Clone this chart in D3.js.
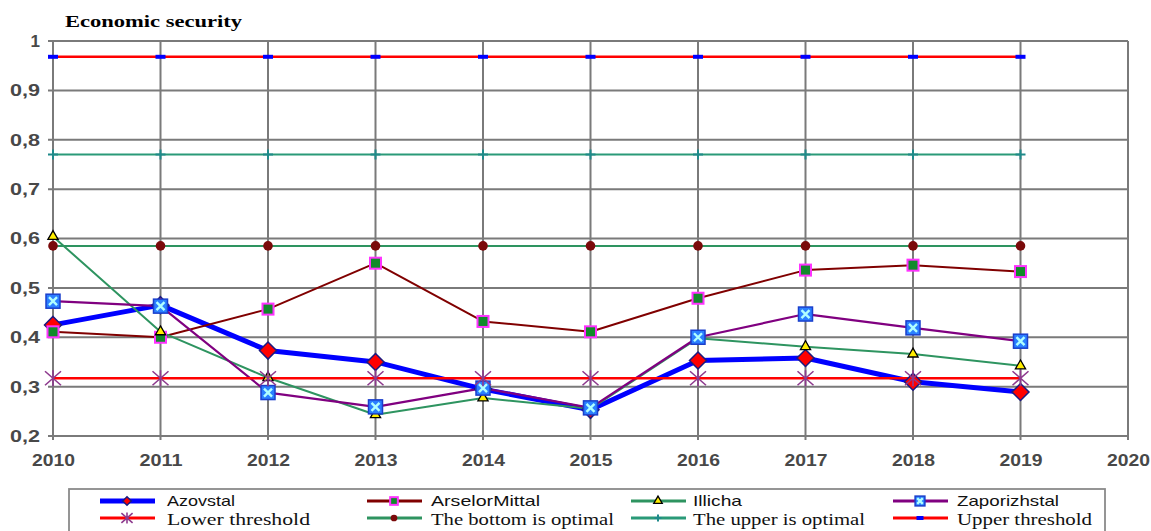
<!DOCTYPE html>
<html lang="en">
<head>
  <meta charset="UTF-8">
  <script src="https://d3js.org/d3.v7.min.js"></script>
  <title>Economic security</title>
  <style>
    body { margin:0; background:#fff; }
    svg { display:block; }
  </style>
</head>
<body>
  <svg width="1151" height="531"></svg>
  <script>
    const years = [2010, 2011, 2012, 2013, 2014, 2015, 2016, 2017, 2018, 2019];
    const xTicks = [2010, 2011, 2012, 2013, 2014, 2015, 2016, 2017, 2018, 2019, 2020];
    const yTicks = [0.2, 0.3, 0.4, 0.5, 0.6, 0.7, 0.8, 0.9, 1];
    const yTickLabels = ["0,2", "0,3", "0,4", "0,5", "0,6", "0,7", "0,8", "0,9", "1"];

    const azovstal      = [0.425, 0.465, 0.373, 0.350, 0.295, 0.253, 0.353, 0.358, 0.310, 0.289];
    const arselorMittal = [0.411, 0.400, 0.457, 0.550, 0.432, 0.411, 0.479, 0.536, 0.546, 0.533];
    const illicha       = [0.604, 0.411, 0.318, 0.243, 0.277, 0.255, 0.398, 0.381, 0.366, 0.342];
    const zaporizhstal  = [0.473, 0.463, 0.288, 0.259, 0.297, 0.257, 0.400, 0.447, 0.419, 0.392];
    const lowerThreshold = [0.317, 0.317, 0.317, 0.317, 0.317, 0.317, 0.317, 0.317, 0.317, 0.317];
    const bottomOptimal  = [0.585, 0.585, 0.585, 0.585, 0.585, 0.585, 0.585, 0.585, 0.585, 0.585];
    const upperOptimal   = [0.770, 0.770, 0.770, 0.770, 0.770, 0.770, 0.770, 0.770, 0.770, 0.770];
    const upperThreshold = [0.968, 0.968, 0.968, 0.968, 0.968, 0.968, 0.968, 0.968, 0.968, 0.968];

    const seriesNames = ["Azovstal", "ArselorMittal", "Illicha", "Zaporizhstal",
      "Lower threshold", "The bottom is optimal", "The upper is optimal", "Upper threshold"];

    // series styling, in legend order
    const series = [
      {name: seriesNames[0], values: azovstal,       line: "#0000ff", width: 5,   marker: "diamond"},
      {name: seriesNames[1], values: arselorMittal,  line: "#800000", width: 2,   marker: "square"},
      {name: seriesNames[2], values: illicha,        line: "#2e9460", width: 2,   marker: "triangle"},
      {name: seriesNames[3], values: zaporizhstal,   line: "#800080", width: 2.2, marker: "xsquare"},
      {name: seriesNames[4], values: lowerThreshold, line: "#ff0000", width: 2.5, marker: "asterisk"},
      {name: seriesNames[5], values: bottomOptimal,  line: "#2e9460", width: 2,   marker: "circle"},
      {name: seriesNames[6], values: upperOptimal,   line: "#2a9a78", width: 2,   marker: "plus"},
      {name: seriesNames[7], values: upperThreshold, line: "#ff0000", width: 2.5, marker: "dash"}
    ];

    const svg = d3.select("svg");
    const x = d3.scaleLinear().domain([2010, 2020]).range([53, 1128]);
    const y = d3.scaleLinear().domain([0.2, 1]).range([436, 41]);

    // title
    svg.append("text")
      .attr("x", 65).attr("y", 27)
      .attr("textLength", 177).attr("lengthAdjust", "spacingAndGlyphs")
      .style("font-family", "'Liberation Serif', 'Times New Roman', serif")
      .style("font-weight", "bold").style("font-size", "17px")
      .text("Economic security");

    // grid
    const grid = svg.append("g").attr("stroke", "#7a7a7a").attr("stroke-width", 2);
    grid.selectAll(".h").data(yTicks).enter().append("line")
      .attr("x1", x(2010) - 5).attr("x2", x(2020))
      .attr("y1", d => y(d)).attr("y2", d => y(d));
    grid.selectAll(".v").data(xTicks).enter().append("line")
      .attr("x1", d => x(d)).attr("x2", d => x(d))
      .attr("y1", y(1)).attr("y2", y(0.2) + 4);

    // axis labels
    const yAxis = d3.axisLeft(y).tickValues(yTicks).tickSize(0).tickPadding(13)
      .tickFormat((d, i) => yTickLabels[i]);
    const yG = svg.append("g").attr("transform", `translate(${x(2010)},0)`).call(yAxis);
    const xAxis = d3.axisBottom(x).tickValues(xTicks).tickSize(0).tickPadding(18)
      .tickFormat(d3.format("d"));
    const xG = svg.append("g").attr("transform", `translate(0,${y(0.2)})`).call(xAxis);
    [yG, xG].forEach(g => {
      g.select(".domain").remove();
      g.selectAll("text")
        .style("font-family", "'Liberation Sans', Arial, sans-serif")
        .style("font-weight", "bold").style("font-size", "17px").attr("fill", "#484848");
    });
    xG.selectAll("text").attr("textLength", 43).attr("lengthAdjust", "spacingAndGlyphs");
    yG.selectAll("text").filter(d => d !== 1)
      .attr("textLength", 30).attr("lengthAdjust", "spacingAndGlyphs");

    // marker drawing
    function drawMarker(g, type, size) {
      const s = size || 1;
      if (type === "diamond") {
        g.append("path").attr("d", `M0,${-8.5*s}L${8.5*s},0L0,${8.5*s}L${-8.5*s},0Z`)
          .attr("fill", "#ff0000").attr("stroke", "#1a1a80").attr("stroke-width", 1.5);
      } else if (type === "square") {
        g.append("rect").attr("x", -5.5 * s).attr("y", -5.5 * s).attr("width", 11 * s).attr("height", 11 * s)
          .attr("fill", "#118a2a").attr("stroke", "#ff33ff").attr("stroke-width", 2);
      } else if (type === "triangle") {
        g.append("path").attr("d", d3.symbol(d3.symbolTriangle, 45 * s)())
          .attr("fill", "#ffee00").attr("stroke", "#000").attr("stroke-width", 1.3);
      } else if (type === "xsquare") {
        g.append("rect").attr("x", -7 * s).attr("y", -7 * s).attr("width", 14 * s).attr("height", 14 * s)
          .attr("fill", "#2a7fff").attr("stroke", "#1a3fcc").attr("stroke-width", 1.5);
        g.append("path").attr("d", `M${-4*s},${-4*s}L${4*s},${4*s}M${-4*s},${4*s}L${4*s},${-4*s}`)
          .attr("stroke", "#b0ffff").attr("stroke-width", 2.4);
      } else if (type === "asterisk") {
        g.append("path")
          .attr("d", `M${-8*s},${-7*s}L${8*s},${7*s}M${-8*s},${7*s}L${8*s},${-7*s}M0,${-8*s}L0,${8*s}`)
          .attr("stroke", "#8e3a8e").attr("stroke-width", 1.6);
      } else if (type === "circle") {
        g.append("circle").attr("r", 4.8 * s).attr("fill", "#7a0a0a");
      } else if (type === "plus") {
        g.append("path").attr("d", `M${-5*s},0L${5*s},0M0,${-5*s}L0,${5*s}`)
          .attr("stroke", "#1f8a8a").attr("stroke-width", 2);
      } else if (type === "dash") {
        g.append("rect").attr("x", -5 * s).attr("y", -2).attr("width", 10 * s).attr("height", 4)
          .attr("fill", "#0000ff");
      }
    }

    const line = d3.line().x((d, i) => x(years[i])).y(d => y(d));

    // lines
    svg.append("g").selectAll("path")
      .data(series).enter().append("path")
      .attr("d", d => line(d.values))
      .attr("fill", "none")
      .attr("stroke", d => d.line)
      .attr("stroke-width", d => d.width)
      .attr("stroke-linejoin", "round");

    // markers
    series.forEach(s => {
      s.values.forEach((v, i) => {
        const g = svg.append("g").attr("transform", `translate(${x(years[i])},${y(v)})`);
        drawMarker(g, s.marker);
      });
    });

    // legend
    const legend = svg.append("g");
    legend.append("rect")
      .attr("x", 69).attr("y", 489).attr("width", 1036).attr("height", 60)
      .attr("fill", "#fff").attr("stroke", "#8a8a8a").attr("stroke-width", 1.8);

    const colSample = [100, 367, 631, 893];
    const colText = [167, 431, 693, 957];
    const rowY = [501, 518];
    const textBase = [506, 525];
    const textWidths = [68, 109, 49, 102, 143, 183, 172, 135];

    series.forEach((s, i) => {
      const col = i % 4, row = Math.floor(i / 4);
      const cy = rowY[row];
      legend.append("line")
        .attr("x1", colSample[col]).attr("x2", colSample[col] + 55)
        .attr("y1", cy).attr("y2", cy)
        .attr("stroke", s.line).attr("stroke-width", s.width === 5 ? 5 : 3.2);
      const g = legend.append("g").attr("transform", `translate(${colSample[col] + 27},${cy})`);
      drawMarker(g, s.marker, s.marker === "diamond" ? 0.5 : 0.7);
      legend.append("text")
        .attr("x", colText[col]).attr("y", textBase[row])
        .attr("textLength", textWidths[i]).attr("lengthAdjust", "spacingAndGlyphs")
        .style("font-family", row === 0 ? "'Liberation Sans', Arial, sans-serif" : "'Liberation Serif', 'Times New Roman', serif")
        .style("font-size", row === 0 ? "15px" : "17px")
        .attr("fill", "#111")
        .text(s.name);
    });
  </script>
</body>
</html>
